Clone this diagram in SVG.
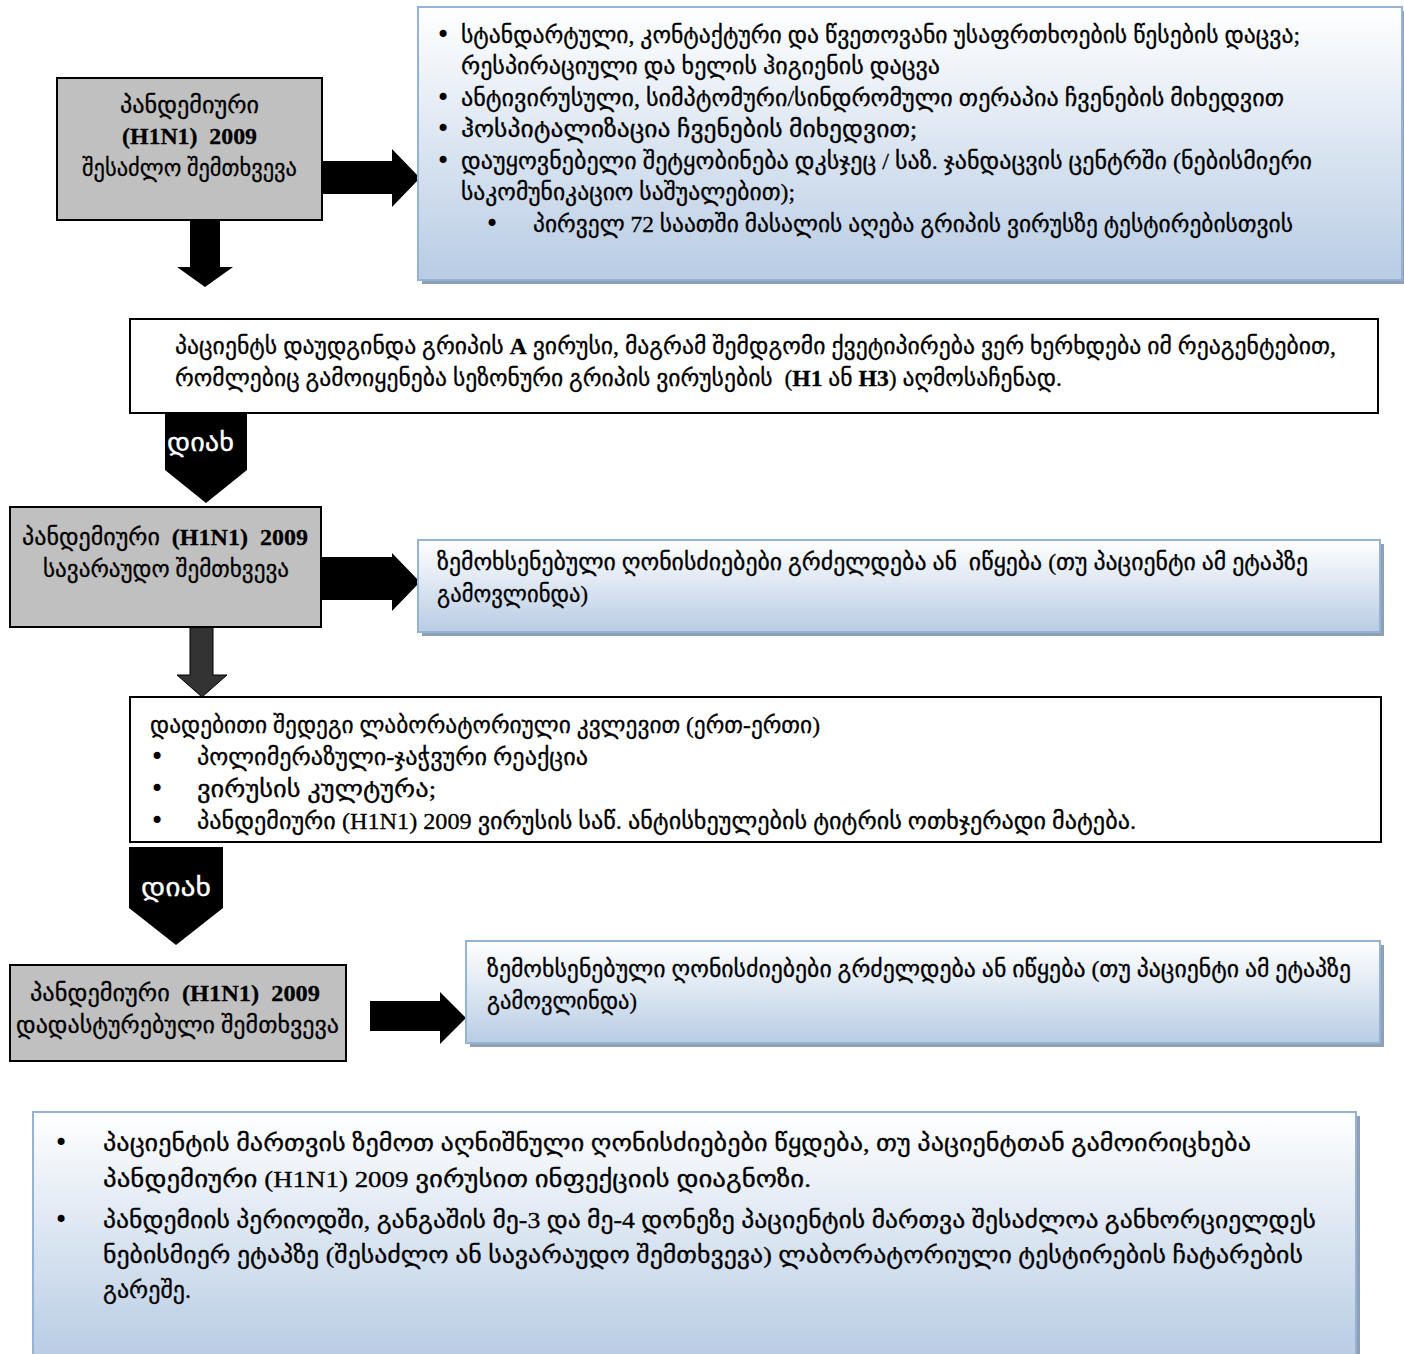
<svg xmlns="http://www.w3.org/2000/svg" width="1404" height="1354" viewBox="0 0 1404 1354" xml:space="preserve">
<defs>
<linearGradient id="bg" x1="0" y1="0" x2="0" y2="1">
<stop offset="0" stop-color="#ffffff"/>
<stop offset="1" stop-color="#b8cce4"/>
</linearGradient>
<style>
.t{font-family:"Liberation Serif","DejaVu Sans",sans-serif;font-size:23px;fill:#000;stroke:#000;stroke-width:0.3;white-space:pre}
.b{font-family:"DejaVu Sans",sans-serif;font-size:24px;fill:#000}
.L{font-weight:bold}
.w{fill:#fff;stroke:#fff;stroke-width:0.3;font-size:26px}
.gray{fill:#c0c0c0;stroke:#000;stroke-width:2}
.white{fill:#fff;stroke:#000;stroke-width:2}
.shadow{fill:#8da0b8}
.blue{fill:url(#bg);stroke:#95b3d7;stroke-width:2}
.arr{fill:#000}
.arr2{fill:#333;stroke:#000;stroke-width:1}
</style>
</defs>
<rect width="1404" height="1354" fill="#fff"/>

<g id="connectors">
<polygon class="arr" points="322,161 392,161 392,149 420,178 392,207 392,194 322,194"/>
<polygon class="arr" points="190,220 220,220 220,267 233,267 205,287 177,267 190,267"/>
<polygon class="arr" points="321,557 392,557 392,553 420,582 392,611 392,600 321,600"/>
<polygon class="arr2" points="190,627 213,627 213,675 227,675 202,697 177,675 190,675"/>
<polygon class="arr" points="370,1001 440,1001 440,992 466,1018 440,1044 440,1031 370,1031"/>
</g>

<g id="n1">
<rect class="gray" x="57" y="78" width="265" height="142"/>
<text class="t" x="120" y="113" textLength="139" lengthAdjust="spacingAndGlyphs">პანდემიური</text>
<text class="t L" x="122" y="144" textLength="135" lengthAdjust="spacingAndGlyphs">(H1N1)  2009</text>
<text class="t" x="82" y="176" textLength="215" lengthAdjust="spacingAndGlyphs">შესაძლო შემთხვევა</text>
</g>

<g id="n2">
<rect class="shadow" x="422" y="11" width="984" height="273"/>
<rect class="blue" x="418" y="7" width="984" height="273"/>
<text class="b" x="436" y="43">•</text>
<text class="t" x="461" y="43" textLength="839" lengthAdjust="spacingAndGlyphs">სტანდარტული, კონტაქტური და წვეთოვანი უსაფრთხოების წესების დაცვა;</text>
<text class="t" x="461" y="74" textLength="479" lengthAdjust="spacingAndGlyphs">რესპირაციული და ხელის ჰიგიენის დაცვა</text>
<text class="b" x="436" y="106">•</text>
<text class="t" x="461" y="106" textLength="823" lengthAdjust="spacingAndGlyphs">ანტივირუსული, სიმპტომური/სინდრომული თერაპია ჩვენების მიხედვით</text>
<text class="b" x="436" y="137">•</text>
<text class="t" x="461" y="137" textLength="456" lengthAdjust="spacingAndGlyphs">ჰოსპიტალიზაცია ჩვენების მიხედვით;</text>
<text class="b" x="436" y="169">•</text>
<text class="t" x="461" y="169" textLength="851" lengthAdjust="spacingAndGlyphs">დაუყოვნებელი შეტყობინება დკსჯეც / საზ. ჯანდაცვის ცენტრში (ნებისმიერი</text>
<text class="t" x="461" y="200" textLength="334" lengthAdjust="spacingAndGlyphs">საკომუნიკაციო საშუალებით);</text>
<text class="b" x="485" y="232">•</text>
<text class="t" x="533" y="232" textLength="760" lengthAdjust="spacingAndGlyphs">პირველ 72 საათში მასალის აღება გრიპის ვირუსზე ტესტირებისთვის</text>
</g>

<g id="n3">
<rect class="white" x="130" y="319" width="1248" height="94"/>
<text class="t" x="175" y="354" textLength="1161" lengthAdjust="spacingAndGlyphs">პაციენტს დაუდგინდა გრიპის <tspan class="L">A</tspan> ვირუსი, მაგრამ შემდგომი ქვეტიპირება ვერ ხერხდება იმ რეაგენტებით,</text>
<text class="t" x="175" y="386" textLength="887" lengthAdjust="spacingAndGlyphs">რომლებიც გამოიყენება სეზონური გრიპის ვირუსების  (<tspan class="L">H1</tspan> ან <tspan class="L">H3</tspan>) აღმოსაჩენად.</text>
</g>

<g id="yes1">
<polygon class="arr" points="165,413 247,413 247,470 206,503 165,470"/>
<text class="b w" x="167" y="451" textLength="67" lengthAdjust="spacingAndGlyphs">დიახ</text>
</g>

<g id="n4">
<rect class="gray" x="10" y="507" width="311" height="120"/>
<text class="t" x="22" y="545" textLength="286" lengthAdjust="spacingAndGlyphs">პანდემიური  <tspan class="L">(H1N1)  2009</tspan></text>
<text class="t" x="43" y="577" textLength="246" lengthAdjust="spacingAndGlyphs">სავარაუდო შემთხვევა</text>
</g>

<g id="n5">
<rect class="shadow" x="422" y="544" width="962" height="92"/>
<rect class="blue" x="418" y="540" width="962" height="92"/>
<text class="t" x="437" y="570" textLength="871" lengthAdjust="spacingAndGlyphs">ზემოხსენებული ღონისძიებები გრძელდება ან  იწყება (თუ პაციენტი ამ ეტაპზე</text>
<text class="t" x="437" y="602" textLength="151" lengthAdjust="spacingAndGlyphs">გამოვლინდა)</text>
</g>

<g id="n6">
<rect class="white" x="130" y="697" width="1251" height="145"/>
<text class="t" x="150" y="733" textLength="670" lengthAdjust="spacingAndGlyphs">დადებითი შედეგი ლაბორატორიული კვლევით (ერთ-ერთი)</text>
<text class="b" x="150" y="765">•</text>
<text class="t" x="197" y="765" textLength="391" lengthAdjust="spacingAndGlyphs">პოლიმერაზული-ჯაჭვური რეაქცია</text>
<text class="b" x="150" y="797">•</text>
<text class="t" x="197" y="797" textLength="239" lengthAdjust="spacingAndGlyphs">ვირუსის კულტურა;</text>
<text class="b" x="150" y="829">•</text>
<text class="t" x="197" y="829" textLength="939" lengthAdjust="spacingAndGlyphs">პანდემიური (H1N1) 2009 ვირუსის საწ. ანტისხეულების ტიტრის ოთხჯერადი მატება.</text>
</g>

<g id="yes2">
<polygon class="arr" points="129,847 223,847 223,908 176,945 129,908"/>
<text class="b w" x="141" y="896" textLength="70" lengthAdjust="spacingAndGlyphs">დიახ</text>
</g>

<g id="n7">
<rect class="gray" x="10" y="965" width="336" height="96"/>
<text class="t" x="30" y="1001" textLength="290" lengthAdjust="spacingAndGlyphs">პანდემიური  <tspan class="L">(H1N1)  2009</tspan></text>
<text class="t" x="16" y="1033" textLength="323" lengthAdjust="spacingAndGlyphs">დადასტურებული შემთხვევა</text>
</g>

<g id="n8">
<rect class="shadow" x="470" y="945" width="914" height="102"/>
<rect class="blue" x="466" y="941" width="914" height="102"/>
<text class="t" x="487" y="977" textLength="864" lengthAdjust="spacingAndGlyphs">ზემოხსენებული ღონისძიებები გრძელდება ან იწყება (თუ პაციენტი ამ ეტაპზე</text>
<text class="t" x="487" y="1009" textLength="150" lengthAdjust="spacingAndGlyphs">გამოვლინდა)</text>
</g>

<g id="n9">
<rect class="shadow" x="37" y="1116" width="1323" height="245"/>
<rect class="blue" x="33" y="1112" width="1323" height="245"/>
<text class="b" x="54" y="1151">•</text>
<text class="t" x="103" y="1151" textLength="1148" lengthAdjust="spacingAndGlyphs">პაციენტის მართვის ზემოთ აღნიშნული ღონისძიებები წყდება, თუ პაციენტთან გამოირიცხება</text>
<text class="t" x="103" y="1187" textLength="708" lengthAdjust="spacingAndGlyphs">პანდემიური (H1N1) 2009 ვირუსით ინფექციის დიაგნოზი.</text>
<text class="b" x="54" y="1228">•</text>
<text class="t" x="103" y="1228" textLength="1213" lengthAdjust="spacingAndGlyphs">პანდემიის პერიოდში, განგაშის მე-3 და მე-4 დონეზე პაციენტის მართვა შესაძლოა განხორციელდეს</text>
<text class="t" x="103" y="1263" textLength="1200" lengthAdjust="spacingAndGlyphs">ნებისმიერ ეტაპზე (შესაძლო ან სავარაუდო შემთხვევა) ლაბორატორიული ტესტირების ჩატარების</text>
<text class="t" x="103" y="1298" textLength="88" lengthAdjust="spacingAndGlyphs">გარეშე.</text>
</g>
</svg>
